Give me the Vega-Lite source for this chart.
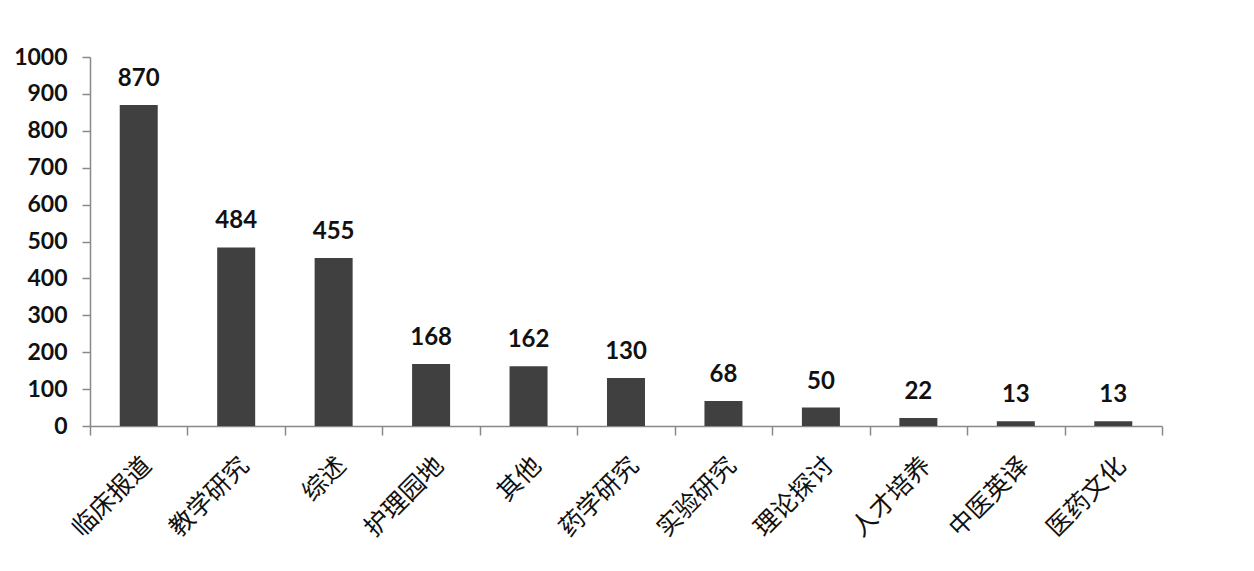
{
  "$schema": "https://vega.github.io/schema/vega-lite/v6.json",
  "autosize": "none",
  "width": 1072,
  "height": 369,
  "padding": {"left": 90, "top": 57, "right": 92, "bottom": 145},
  "background": "white",
  "config": {"view": {"stroke": null}},
  "data": {"values": [
    {"cat": "临床报道", "v": 870},
    {"cat": "教学研究", "v": 484},
    {"cat": "综述", "v": 455},
    {"cat": "护理园地", "v": 168},
    {"cat": "其他", "v": 162},
    {"cat": "药学研究", "v": 130},
    {"cat": "实验研究", "v": 68},
    {"cat": "理论探讨", "v": 50},
    {"cat": "人才培养", "v": 22},
    {"cat": "中医英译", "v": 13},
    {"cat": "医药文化", "v": 13}
  ]},
  "encoding": {
    "x": {"field": "cat", "type": "nominal", "sort": null,
      "scale": {"paddingInner": 0, "paddingOuter": 0},
      "axis": {"title": null, "tickBand": "extent", "domainColor": "#888", "domainWidth": 1.5, "tickColor": "#888", "tickSize": 9, "tickWidth": 1.5,
        "labelAngle": -45, "labelAlign": "right", "labelBaseline": "middle", "labelOffset": 8, "labelFont": "Noto Sans CJK SC", "labelFontSize": 25, "labelColor": "#111", "labelPadding": 26, "labelBound": false, "labelFlush": false, "labelOverlap": false}
    },
    "y": {"field": "v", "type": "quantitative",
      "scale": {"domain": [0, 1000], "nice": false},
      "axis": {"title": null, "values": [0,100,200,300,400,500,600,700,800,900,1000], "format": "d", "grid": false, "labelFont": "Lato", "labelFontWeight": "bold", "labelFontSize": 23, "labelColor": "#111", "labelPadding": 15,
        "domainColor": "#888", "domainWidth": 1.5, "tickColor": "#888", "tickSize": 8, "tickWidth": 1.5}
    }
  },
  "layer": [
    {"mark": {"type": "bar", "color": "#404040", "width": {"band": 0.39}}},
    {"mark": {"type": "text", "dy": -14, "baseline": "bottom", "font": "Lato", "fontWeight": "bold", "fontSize": 24, "color": "#111"},
     "encoding": {"text": {"field": "v", "type": "quantitative"}}}
  ]
}
